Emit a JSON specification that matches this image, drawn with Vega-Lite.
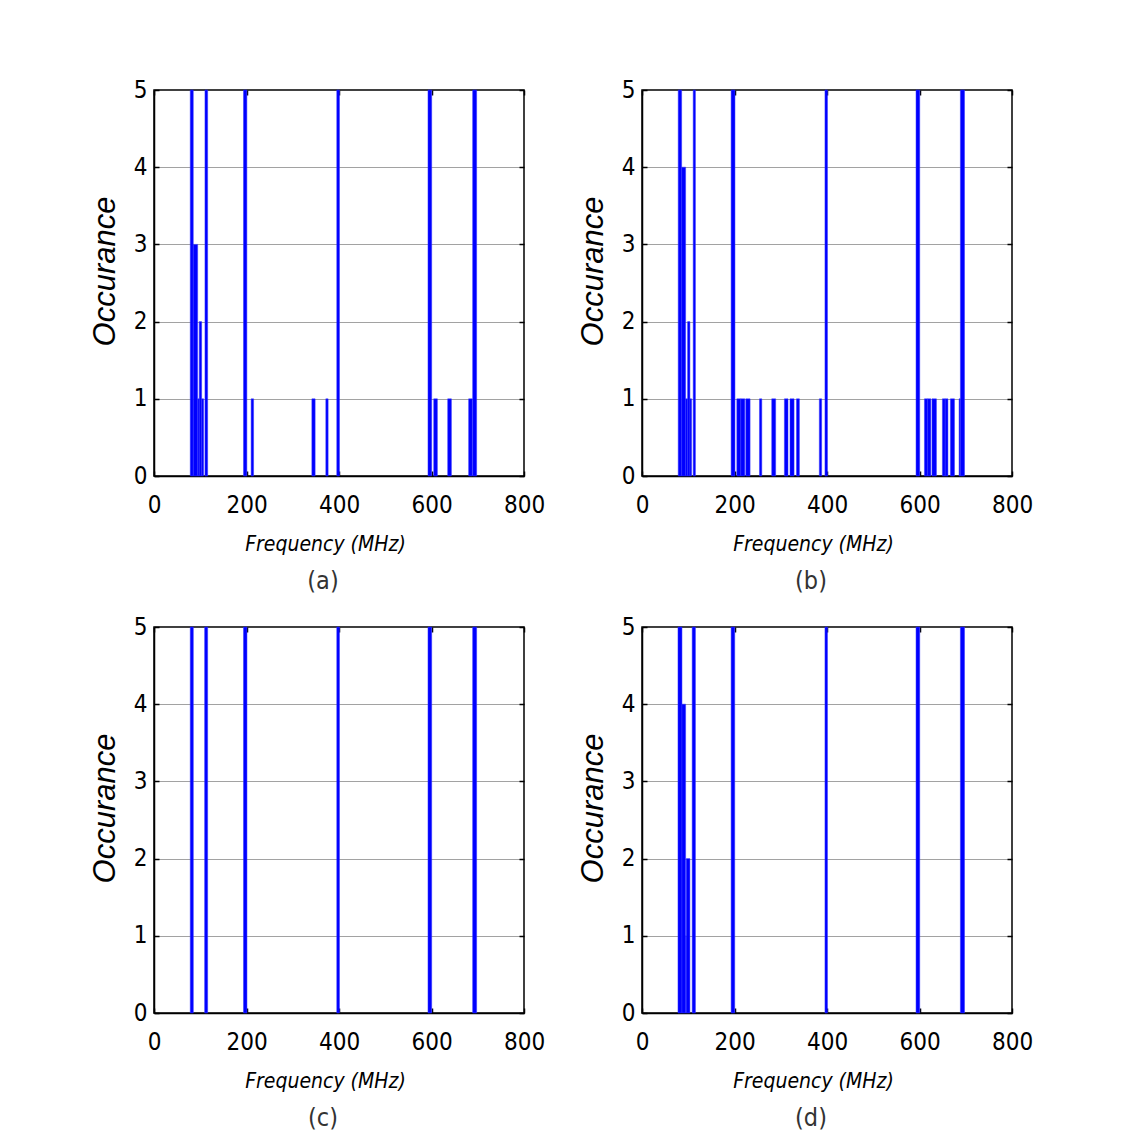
{
  "$schema": "https://vega.github.io/schema/vega-lite/v6.json",
  "background": "white",
  "padding": {"left": 88, "top": 77, "right": 10, "bottom": 10},
  "datasets": {
    "bars": [
      {"panel": "a", "f0": 78.4, "f1": 84.9, "n": 5},
      {"panel": "a", "f0": 84.9, "f1": 94.4, "n": 3},
      {"panel": "a", "f0": 94.4, "f1": 97.8, "n": 1},
      {"panel": "a", "f0": 97.8, "f1": 103, "n": 2},
      {"panel": "a", "f0": 103, "f1": 107.3, "n": 1},
      {"panel": "a", "f0": 110.2, "f1": 116, "n": 5},
      {"panel": "a", "f0": 193.5, "f1": 200.8, "n": 5},
      {"panel": "a", "f0": 210, "f1": 215.3, "n": 1},
      {"panel": "a", "f0": 341.3, "f1": 348.4, "n": 1},
      {"panel": "a", "f0": 371.5, "f1": 376.5, "n": 1},
      {"panel": "a", "f0": 395.2, "f1": 401, "n": 5},
      {"panel": "a", "f0": 592.4, "f1": 600.4, "n": 5},
      {"panel": "a", "f0": 604.8, "f1": 612.7, "n": 1},
      {"panel": "a", "f0": 635, "f1": 643, "n": 1},
      {"panel": "a", "f0": 680.3, "f1": 688.3, "n": 1},
      {"panel": "a", "f0": 689, "f1": 697.6, "n": 5},

      {"panel": "b", "f0": 78.3, "f1": 85.7, "n": 5},
      {"panel": "b", "f0": 85.7, "f1": 94.3, "n": 4},
      {"panel": "b", "f0": 94.3, "f1": 98.6, "n": 1},
      {"panel": "b", "f0": 98.6, "f1": 103.6, "n": 2},
      {"panel": "b", "f0": 103.6, "f1": 107.2, "n": 1},
      {"panel": "b", "f0": 110.7, "f1": 115.5, "n": 5},
      {"panel": "b", "f0": 192.7, "f1": 201, "n": 5},
      {"panel": "b", "f0": 205, "f1": 213.6, "n": 1},
      {"panel": "b", "f0": 213.6, "f1": 222.3, "n": 1},
      {"panel": "b", "f0": 224.4, "f1": 233.7, "n": 1},
      {"panel": "b", "f0": 254, "f1": 259, "n": 1},
      {"panel": "b", "f0": 280.5, "f1": 289, "n": 1},
      {"panel": "b", "f0": 307.9, "f1": 315.7, "n": 1},
      {"panel": "b", "f0": 320, "f1": 328.8, "n": 1},
      {"panel": "b", "f0": 334, "f1": 340.3, "n": 1},
      {"panel": "b", "f0": 383.4, "f1": 388.4, "n": 1},
      {"panel": "b", "f0": 395.6, "f1": 401, "n": 5},
      {"panel": "b", "f0": 592.5, "f1": 600.5, "n": 5},
      {"panel": "b", "f0": 610.7, "f1": 617.5, "n": 1},
      {"panel": "b", "f0": 617.5, "f1": 624.5, "n": 1},
      {"panel": "b", "f0": 627, "f1": 636.6, "n": 1},
      {"panel": "b", "f0": 649.5, "f1": 655.5, "n": 1},
      {"panel": "b", "f0": 655.5, "f1": 661.5, "n": 1},
      {"panel": "b", "f0": 666.8, "f1": 675.6, "n": 1},
      {"panel": "b", "f0": 685.6, "f1": 688.4, "n": 1},
      {"panel": "b", "f0": 688.4, "f1": 697.3, "n": 5},

      {"panel": "c", "f0": 78.4, "f1": 85, "n": 5},
      {"panel": "c", "f0": 109.5, "f1": 116, "n": 5},
      {"panel": "c", "f0": 193.5, "f1": 201, "n": 5},
      {"panel": "c", "f0": 395.2, "f1": 401, "n": 5},
      {"panel": "c", "f0": 592.4, "f1": 600.4, "n": 5},
      {"panel": "c", "f0": 689, "f1": 697.6, "n": 5},

      {"panel": "d", "f0": 77.8, "f1": 86.4, "n": 5},
      {"panel": "d", "f0": 86.4, "f1": 94.3, "n": 4},
      {"panel": "d", "f0": 94.3, "f1": 95.7, "n": 1},
      {"panel": "d", "f0": 95.7, "f1": 103.6, "n": 2},
      {"panel": "d", "f0": 108.5, "f1": 115.5, "n": 5},
      {"panel": "d", "f0": 192.7, "f1": 200.5, "n": 5},
      {"panel": "d", "f0": 395.6, "f1": 401, "n": 5},
      {"panel": "d", "f0": 592.5, "f1": 600.5, "n": 5},
      {"panel": "d", "f0": 688.4, "f1": 697.3, "n": 5}
    ]
  },
  "data": {"name": "bars"},
  "columns": 2,
  "bounds": "flush",
  "spacing": {"row": 151, "column": 118},
  "concat": [
    {
      "width": 370, "height": 386,
      "title": {"text": "(a)", "orient": "bottom", "dx": -16},
      "transform": [{"filter": "datum.panel == 'a'"}],
      "resolve": {"axis": {"x": "independent", "y": "independent"}},
      "layer": [
        {
          "mark": {"type": "rect", "color": "#0000ff", "stroke": "#3333ff", "strokeWidth": 0.5},
          "encoding": {
            "x": {"field": "f0", "type": "quantitative", "scale": {"domain": [0, 800], "nice": false}, "axis": {"values": [0, 200, 400, 600, 800], "title": "Frequency (MHz)"}},
            "x2": {"field": "f1"},
            "y": {"field": "n", "type": "quantitative", "scale": {"domain": [0, 5], "nice": false}, "axis": {"values": [0, 1, 2, 3, 4, 5], "title": "Occurance"}},
            "y2": {"datum": 0}
          }
        },
        {
          "mark": {"type": "rect", "opacity": 0},
          "encoding": {
            "x": {"field": "f0", "type": "quantitative", "axis": {"orient": "top", "values": [0, 200, 400, 600, 800], "labels": false, "title": null, "domain": false}},
            "x2": {"field": "f1"},
            "y": {"field": "n", "type": "quantitative", "axis": {"orient": "right", "values": [0, 1, 2, 3, 4, 5], "labels": false, "title": null, "domain": false, "grid": false}},
            "y2": {"datum": 0}
          }
        }
      ]
    },
    {
      "width": 370, "height": 386,
      "title": {"text": "(b)", "orient": "bottom", "dx": -16},
      "transform": [{"filter": "datum.panel == 'b'"}],
      "resolve": {"axis": {"x": "independent", "y": "independent"}},
      "layer": [
        {
          "mark": {"type": "rect", "color": "#0000ff", "stroke": "#3333ff", "strokeWidth": 0.5},
          "encoding": {
            "x": {"field": "f0", "type": "quantitative", "scale": {"domain": [0, 800], "nice": false}, "axis": {"values": [0, 200, 400, 600, 800], "title": "Frequency (MHz)"}},
            "x2": {"field": "f1"},
            "y": {"field": "n", "type": "quantitative", "scale": {"domain": [0, 5], "nice": false}, "axis": {"values": [0, 1, 2, 3, 4, 5], "title": "Occurance"}},
            "y2": {"datum": 0}
          }
        },
        {
          "mark": {"type": "rect", "opacity": 0},
          "encoding": {
            "x": {"field": "f0", "type": "quantitative", "axis": {"orient": "top", "values": [0, 200, 400, 600, 800], "labels": false, "title": null, "domain": false}},
            "x2": {"field": "f1"},
            "y": {"field": "n", "type": "quantitative", "axis": {"orient": "right", "values": [0, 1, 2, 3, 4, 5], "labels": false, "title": null, "domain": false, "grid": false}},
            "y2": {"datum": 0}
          }
        }
      ]
    },
    {
      "width": 370, "height": 386,
      "title": {"text": "(c)", "orient": "bottom", "dx": -16},
      "transform": [{"filter": "datum.panel == 'c'"}],
      "resolve": {"axis": {"x": "independent", "y": "independent"}},
      "layer": [
        {
          "mark": {"type": "rect", "color": "#0000ff", "stroke": "#3333ff", "strokeWidth": 0.5},
          "encoding": {
            "x": {"field": "f0", "type": "quantitative", "scale": {"domain": [0, 800], "nice": false}, "axis": {"values": [0, 200, 400, 600, 800], "title": "Frequency (MHz)"}},
            "x2": {"field": "f1"},
            "y": {"field": "n", "type": "quantitative", "scale": {"domain": [0, 5], "nice": false}, "axis": {"values": [0, 1, 2, 3, 4, 5], "title": "Occurance"}},
            "y2": {"datum": 0}
          }
        },
        {
          "mark": {"type": "rect", "opacity": 0},
          "encoding": {
            "x": {"field": "f0", "type": "quantitative", "axis": {"orient": "top", "values": [0, 200, 400, 600, 800], "labels": false, "title": null, "domain": false}},
            "x2": {"field": "f1"},
            "y": {"field": "n", "type": "quantitative", "axis": {"orient": "right", "values": [0, 1, 2, 3, 4, 5], "labels": false, "title": null, "domain": false, "grid": false}},
            "y2": {"datum": 0}
          }
        }
      ]
    },
    {
      "width": 370, "height": 386,
      "title": {"text": "(d)", "orient": "bottom", "dx": -16},
      "transform": [{"filter": "datum.panel == 'd'"}],
      "resolve": {"axis": {"x": "independent", "y": "independent"}},
      "layer": [
        {
          "mark": {"type": "rect", "color": "#0000ff", "stroke": "#3333ff", "strokeWidth": 0.5},
          "encoding": {
            "x": {"field": "f0", "type": "quantitative", "scale": {"domain": [0, 800], "nice": false}, "axis": {"values": [0, 200, 400, 600, 800], "title": "Frequency (MHz)"}},
            "x2": {"field": "f1"},
            "y": {"field": "n", "type": "quantitative", "scale": {"domain": [0, 5], "nice": false}, "axis": {"values": [0, 1, 2, 3, 4, 5], "title": "Occurance"}},
            "y2": {"datum": 0}
          }
        },
        {
          "mark": {"type": "rect", "opacity": 0},
          "encoding": {
            "x": {"field": "f0", "type": "quantitative", "axis": {"orient": "top", "values": [0, 200, 400, 600, 800], "labels": false, "title": null, "domain": false}},
            "x2": {"field": "f1"},
            "y": {"field": "n", "type": "quantitative", "axis": {"orient": "right", "values": [0, 1, 2, 3, 4, 5], "labels": false, "title": null, "domain": false, "grid": false}},
            "y2": {"datum": 0}
          }
        }
      ]
    }
  ],
  "config": {
    "view": {"stroke": "black", "strokeWidth": 1.5},
    "axis": {
      "labelFont": "'DejaVu Sans Condensed', 'Liberation Sans', sans-serif",
      "labelFontSize": 24,
      "labelColor": "black",
      "labelFlush": false,
      "titleColor": "black",
      "titleFontWeight": "normal",
      "titleFontStyle": "italic",
      "domainColor": "black",
      "domainWidth": 1.5,
      "tickColor": "black",
      "tickSize": -5,
      "tickWidth": 1.5
    },
    "axisX": {
      "grid": false,
      "labelPadding": 22,
      "titleFont": "'DejaVu Sans Condensed', 'Liberation Sans', sans-serif",
      "titleFontSize": 21,
      "titlePadding": 16,
      "titleX": 171
    },
    "axisY": {
      "grid": true,
      "gridColor": "#444444",
      "gridDash": [1, 1],
      "gridWidth": 1,
      "labelPadding": 12,
      "titleFont": "Liberation Sans",
      "titleFontSize": 31,
      "titlePadding": 12,
      "titleY": 181
    },
    "title": {
      "font": "'DejaVu Sans Condensed', 'Liberation Sans', sans-serif",
      "fontSize": 25,
      "fontWeight": "normal",
      "color": "#333333",
      "offset": 15
    }
  }
}
